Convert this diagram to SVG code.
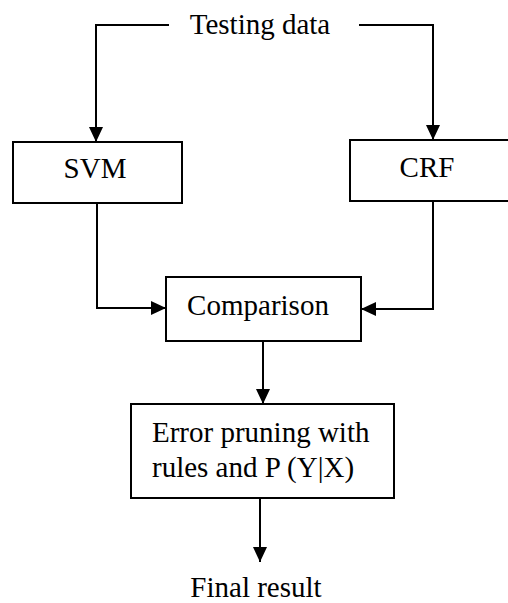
<svg xmlns="http://www.w3.org/2000/svg" width="508" height="603" viewBox="0 0 508 603">
<style>
.box{fill:#fff;stroke:#000;stroke-width:2}
.ln{fill:none;stroke:#000;stroke-width:2}
text{font-family:"Liberation Serif","Times New Roman",serif;font-size:29px;fill:#000}
</style>
<defs>
<marker id="ah" markerWidth="15" markerHeight="14" refX="15" refY="7" orient="auto" markerUnits="userSpaceOnUse">
<path d="M0,0 L15,7 L0,14 Z" fill="#000"/>
</marker>
</defs>
<rect width="508" height="603" fill="#fff"/>
<g id="connectors">
<path class="ln" d="M169,25 H96 V142" marker-end="url(#ah)"/>
<path class="ln" d="M359,25 H433 V140" marker-end="url(#ah)"/>
<path class="ln" d="M97,203 V308 H166" marker-end="url(#ah)"/>
<path class="ln" d="M433,201 V309 H361" marker-end="url(#ah)"/>
<path class="ln" d="M263,341 V404" marker-end="url(#ah)"/>
<path class="ln" d="M260,498 V562" marker-end="url(#ah)"/>
</g>
<g id="testing-data"><text x="260" y="34" text-anchor="middle">Testing data</text></g>
<g id="svm"><rect class="box" x="13" y="142" width="169" height="61"/><text x="95" y="178" text-anchor="middle">SVM</text></g>
<g id="crf"><rect class="box" x="350" y="140" width="170" height="61"/><text x="427" y="177" text-anchor="middle">CRF</text></g>
<g id="comparison"><rect class="box" x="166" y="277" width="195" height="64"/><text x="258" y="315" text-anchor="middle">Comparison</text></g>
<g id="error-pruning"><rect class="box" x="131" y="404" width="263" height="94"/><text x="152" y="442">Error pruning with</text><text x="152" y="477">rules and P (Y|X)</text></g>
<g id="final-result"><text x="256" y="597" text-anchor="middle">Final result</text></g>
</svg>
